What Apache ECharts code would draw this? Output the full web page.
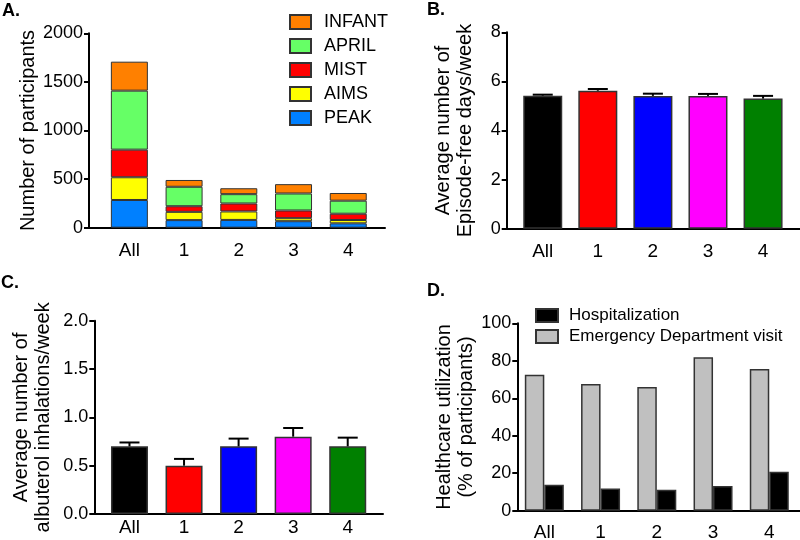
<!DOCTYPE html>
<html>
<head>
<meta charset="utf-8">
<script src="https://cdn.jsdelivr.net/npm/echarts@6/dist/echarts.min.js"></script>
<style>
  html, body { margin: 0; padding: 0; background: #fff; }
  #chart { width: 800px; height: 540px; }
</style>
</head>
<body>
<div id="chart"></div>
<script>
// categories
const groups = ['All', '1', '2', '3', '4'];

// panel A: stacked participants per study
const peak = [285, 78, 80, 67, 45];
const aims = [234, 85, 87, 31, 34];
const mist = [284, 58, 82, 79, 65];
const april = [607, 200, 96, 175, 134];
const infant = [298, 70, 61, 96, 79];

// panel B: episode-free days/week (mean, SEM)
const freeDays = [5.42, 5.62, 5.41, 5.41, 5.30];
const freeDaysErr = [0.04, 0.07, 0.09, 0.08, 0.11];

// panel C: albuterol inhalations/week (mean, SEM)
const albuterol = [0.70, 0.50, 0.70, 0.80, 0.70];
const albuterolErr = [0.04, 0.07, 0.08, 0.09, 0.09];

// panel D: healthcare utilization (%)
const edVisit = [72.6, 67.6, 66.0, 81.9, 75.6];
const hospital = [13.9, 11.9, 11.2, 13.2, 20.8];

const barColors = ['#000000', '#ff0000', '#0000ff', '#ff00ff', '#008000'];

const FONT = 'Liberation Sans';
const BORDER = '#333';

// frame grids carry the y axis + long x axis line, bar grids carry the bars
const panels = [
    { frame: { left: 89, top: 33.3, width: 296, height: 194.4 }, bars: { left: 102, width: 273.6 }, xMargin: 14 },
    { frame: { left: 506.7, top: 32.3, width: 293.3, height: 196.4 }, bars: { left: 515.2, width: 275.4 }, xMargin: 14 },
    { frame: { left: 94.3, top: 320.7, width: 288.7, height: 193.3 }, bars: { left: 102.2, width: 272.8 }, xMargin: 4 },
    { frame: { left: 517.3, top: 323.3, width: 282.7, height: 187.4 }, bars: { left: 516.2, width: 281.2 }, xMargin: 13 }
];

const yDefs = [
    { min: 0, max: 2000, interval: 500, name: 'Number of participants', nameGap: 49, fmt: v => v },
    { min: 0, max: 8, interval: 2, name: 'Average number of\nEpisode-free days/week', nameGap: 30, fmt: v => v },
    { min: 0, max: 2, interval: 0.5, name: 'Average number of\nalbuterol inhalations/week', nameGap: 40, fmt: v => v.toFixed(1) },
    { min: 0, max: 100, interval: 20, name: 'Healthcare utilization\n(% of participants)', nameGap: 38, fmt: v => v }
];

const grids = [];
const xAxes = [];
const yAxes = [];

panels.forEach((p, i) => {
    const f = p.frame;
    grids.push({ left: f.left, top: f.top, width: f.width, height: f.height, outerBoundsMode: 'none' });
    grids.push({ left: p.bars.left, top: f.top, width: p.bars.width, height: f.height, outerBoundsMode: 'none' });

    const y = yDefs[i];
    // frame axes
    xAxes.push({
        type: 'value', gridIndex: i * 2, min: 0, max: 1,
        axisLine: { show: true, lineStyle: { color: '#000', width: 2 } },
        axisTick: { show: false }, axisLabel: { show: false }, splitLine: { show: false }
    });
    yAxes.push({
        type: 'value', gridIndex: i * 2, min: y.min, max: y.max, interval: y.interval,
        name: y.name, nameLocation: 'middle', nameGap: y.nameGap,
        nameTextStyle: { fontFamily: FONT, fontSize: 20, color: '#000', lineHeight: 22 },
        axisLine: { show: true, lineStyle: { color: '#000', width: 2 } },
        axisTick: { show: true, length: 5, lineStyle: { color: '#000', width: 2 } },
        axisLabel: { fontFamily: FONT, fontSize: 18, color: '#000', margin: 6, formatter: y.fmt },
        splitLine: { show: false }
    });
    // bar axes
    xAxes.push({
        type: 'category', gridIndex: i * 2 + 1, data: groups,
        axisLine: { show: false }, axisTick: { show: false },
        axisLabel: { fontFamily: FONT, fontSize: 19, color: '#000', margin: p.xMargin }
    });
    yAxes.push({
        type: 'value', gridIndex: i * 2 + 1, min: y.min, max: y.max, interval: y.interval,
        show: false, splitLine: { show: false }
    });
});

function stackSeries(name, data, color) {
    return {
        name: name, type: 'bar', stack: 'a', data: data,
        xAxisIndex: 1, yAxisIndex: 1, barWidth: 37,
        itemStyle: { color: color, borderColor: BORDER, borderWidth: 1 }
    };
}

function meanBars(values, axis, width) {
    return {
        type: 'bar', xAxisIndex: axis, yAxisIndex: axis, barWidth: width,
        data: values.map((v, i) => ({ value: v, itemStyle: { color: barColors[i] } })),
        itemStyle: { borderColor: BORDER, borderWidth: 1.5 }
    };
}

function errorBars(values, errs, axis) {
    return {
        type: 'custom', xAxisIndex: axis, yAxisIndex: axis, z: 5,
        data: values.map((v, i) => [i, v, v + errs[i]]),
        renderItem: (params, api) => {
            const base = api.coord([api.value(0), api.value(1)]);
            const top = api.coord([api.value(0), api.value(2)]);
            const style = { stroke: '#000', lineWidth: 2 };
            return {
                type: 'group',
                children: [
                    { type: 'line', shape: { x1: base[0], y1: base[1], x2: top[0], y2: top[1] }, style: style },
                    { type: 'line', shape: { x1: top[0] - 10, y1: top[1], x2: top[0] + 10, y2: top[1] }, style: style }
                ]
            };
        }
    };
}

const labelStyle = { fontFamily: FONT, fontSize: 18, fontWeight: 'bold', color: '#000' };

const option = {
    animation: false,
    backgroundColor: '#fff',
    title: [
        { text: 'A.', left: 2, top: 2, padding: 0, textStyle: labelStyle },
        { text: 'B.', left: 427, top: 1, padding: 0, textStyle: labelStyle },
        { text: 'C.', left: 1, top: 274, padding: 0, textStyle: labelStyle },
        { text: 'D.', left: 427, top: 282, padding: 0, textStyle: labelStyle }
    ],
    legend: [
        {
            orient: 'vertical', left: 289, top: 13, padding: 0,
            itemWidth: 21, itemHeight: 14, itemGap: 6,
            icon: 'rect',
            data: ['INFANT', 'APRIL', 'MIST', 'AIMS', 'PEAK'],
            textStyle: { fontFamily: FONT, fontSize: 18, color: '#000', lineHeight: 18, padding: [0, 0, 0, 8] }
        },
        {
            orient: 'vertical', left: 535, top: 307, padding: 0,
            itemWidth: 22, itemHeight: 13, itemGap: 4,
            icon: 'rect',
            data: ['Hospitalization', 'Emergency Department visit'],
            textStyle: { fontFamily: FONT, fontSize: 17, color: '#000', lineHeight: 17, padding: [0, 0, 0, 6] }
        }
    ],
    grid: grids,
    xAxis: xAxes,
    yAxis: yAxes,
    series: [
        stackSeries('PEAK', peak, '#0080ff'),
        stackSeries('AIMS', aims, '#ffff00'),
        stackSeries('MIST', mist, '#ff0000'),
        stackSeries('APRIL', april, '#66ff66'),
        stackSeries('INFANT', infant, '#ff8000'),

        meanBars(freeDays, 3, 39),
        errorBars(freeDays, freeDaysErr, 3),

        meanBars(albuterol, 5, 37),
        errorBars(albuterol, albuterolErr, 5),

        {
            name: 'Emergency Department visit', type: 'bar', data: edVisit,
            xAxisIndex: 7, yAxisIndex: 7, barWidth: 19.5, barGap: '0%',
            itemStyle: { color: '#c0c0c0', borderColor: BORDER, borderWidth: 1.5 }
        },
        {
            name: 'Hospitalization', type: 'bar', data: hospital,
            xAxisIndex: 7, yAxisIndex: 7, barWidth: 19.5, barGap: '0%',
            itemStyle: { color: '#000000', borderColor: BORDER, borderWidth: 1.5 }
        }
    ]
};

const chart = echarts.init(document.getElementById('chart'));
chart.setOption(option);
</script>
</body>
</html>
